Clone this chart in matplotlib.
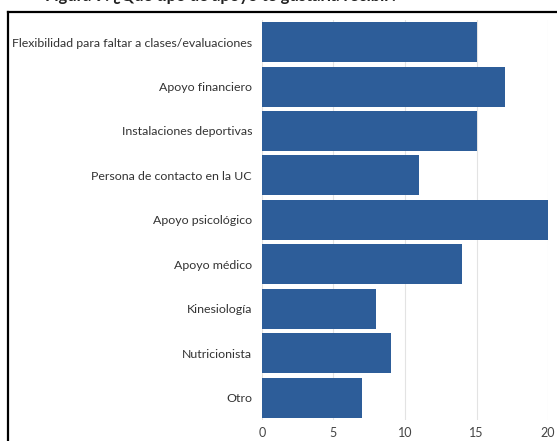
import matplotlib.pyplot as plt
from matplotlib.lines import Line2D

# ---------------------------------------------------------------------------
# Data
# ---------------------------------------------------------------------------
categories = [
    "Flexibilidad para faltar a clases/evaluaciones",
    "Apoyo financiero",
    "Instalaciones deportivas",
    "Persona de contacto en la UC",
    "Apoyo psicológico",
    "Apoyo médico",
    "Kinesiología",
    "Nutricionista",
    "Otro",
]
values = [15, 17, 15, 11, 20, 14, 8, 9, 7]
x_ticks = [0, 5, 10, 15, 20]

BAR_COLOR = "#2d5d99"

plt.rcParams["font.family"] = ["Lato", "DejaVu Sans"]

fig = plt.figure(figsize=(5.57, 4.41), dpi=100)
ax = fig.add_axes([0.470, 0.048, 0.514, 0.907])

y = list(range(len(categories)))
ax.barh(y, values, height=0.9, color=BAR_COLOR, zorder=2)
ax.set_yticks(y)
ax.set_yticklabels(categories, fontsize=8.9, color="#333333")
ax.set_ylim(len(categories) - 0.5, -0.5)
ax.set_xlim(0, 20)
ax.set_xticks(x_ticks)
ax.set_xticklabels([str(t) for t in x_ticks], fontsize=9, color="#444444")
ax.tick_params(length=0, pad=7)
ax.tick_params(axis="x", pad=5)
ax.grid(axis="x", color="#e3e3e3", linewidth=0.8, zorder=0)
for s in ax.spines.values():
    s.set_visible(False)

# frame around the chart (cut off at right and bottom)
fig.add_artist(Line2D([8 / 557, 8 / 557], [0, 1 - 12 / 441], color="black",
                      linewidth=1.6, transform=fig.transFigure))
fig.add_artist(Line2D([8 / 557, 1], [1 - 12 / 441, 1 - 12 / 441], color="black",
                      linewidth=1.6, transform=fig.transFigure))

# clipped caption above the frame
fig.text(45 / 557, 1 - 1 / 441, "Figura 9: ¿Qué tipo de apoyo te gustaría recibir?",
         fontsize=12, fontweight="bold", color="#222222", va="baseline")

fig.savefig("out.png", dpi=100)
